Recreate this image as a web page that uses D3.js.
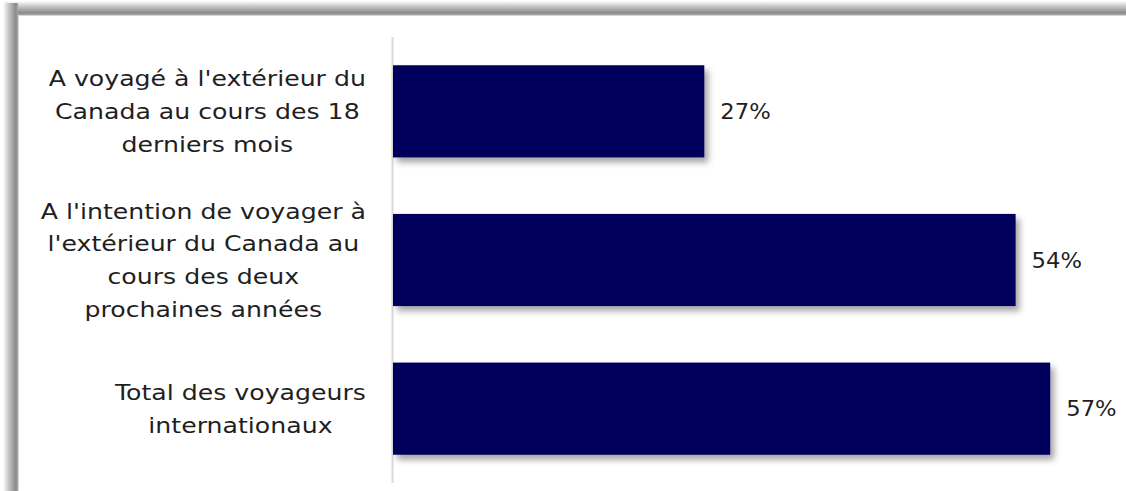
<!DOCTYPE html>
<html>
<head>
<meta charset="utf-8">
<script src="https://cdn.jsdelivr.net/npm/d3@7"></script>
<style>
  html, body { margin: 0; padding: 0; background: #ffffff; }
  svg { display: block; }
</style>
</head>
<body>
<svg id="chart" width="1126" height="491"></svg>
<script>
// Categories (one array of wrapped lines per bar) and their percentages
const categories = [
  ["A voyagé à l'extérieur du", "Canada au cours des 18", "derniers mois"],
  ["A l'intention de voyager à", "l'extérieur du Canada au", "cours des deux", "prochaines années"],
  ["Total des voyageurs", "internationaux"]
];
const values = [27, 54, 57];
const valueLabels = ["27%", "54%", "57%"];

const W = 1126, H = 491;
const FONT = "'Century Gothic', 'DejaVu Sans', sans-serif";
const STRETCH = 1.2;        // widen category glyphs toward a geometric-gothic look
const VALUE_STRETCH = 1.08; // percentages are set a little narrower
const svg = d3.select("#chart");
const defs = svg.append("defs");

// Soft shading along the top and left edges of the panel
function shade(id, horizontal) {
  const g = defs.append("linearGradient").attr("id", id)
    .attr("x1", 0).attr("y1", 0)
    .attr("x2", horizontal ? 1 : 0).attr("y2", horizontal ? 0 : 1);
  g.append("stop").attr("offset", "0%").attr("stop-color", "#ffffff");
  g.append("stop").attr("offset", "40%").attr("stop-color", "#c4c4c4");
  g.append("stop").attr("offset", "85%").attr("stop-color", "#8a8a8a");
  g.append("stop").attr("offset", "100%").attr("stop-color", "#a8a8a8");
}
shade("shadeTop", false);
shade("shadeLeft", true);

// Drop shadow beneath each bar
const f = defs.append("filter").attr("id", "barShadow")
  .attr("x", "-5%").attr("y", "-10%").attr("width", "115%").attr("height", "135%");
f.append("feDropShadow").attr("dx", 4).attr("dy", 5).attr("stdDeviation", 3)
  .attr("flood-color", "#000000").attr("flood-opacity", 0.35);

svg.append("rect").attr("x", 4).attr("y", 1).attr("width", W).attr("height", 14)
  .attr("fill", "url(#shadeTop)");
svg.append("rect").attr("x", 3).attr("y", 3).attr("width", 15).attr("height", H)
  .attr("fill", "url(#shadeLeft)");
svg.append("rect").attr("x", 18).attr("y", 15).attr("width", W).attr("height", H)
  .attr("fill", "#ffffff");
svg.append("path").attr("d", `M18.5,${H} V15.5 H${W}`)
  .attr("fill", "none").attr("stroke", "#d6d6d6").attr("stroke-width", 1);

// Scales
const x0 = 393;
const x = d3.scaleLinear().domain([0, 60]).range([x0, x0 + 60 * 11.53]);
const y = d3.scaleBand().domain(d3.range(values.length))
  .range([37, 483]).paddingInner(0.38).paddingOuter(0.19);

// Category axis line
svg.append("line")
  .attr("x1", x0 - 0.5).attr("x2", x0 - 0.5)
  .attr("y1", 37).attr("y2", 483)
  .attr("stroke", "#d9d9d9").attr("stroke-width", 2);

// Bars
svg.append("g").selectAll("rect").data(values).join("rect")
  .attr("x", x(0))
  .attr("y", (d, i) => y(i))
  .attr("width", d => x(d) - x(0))
  .attr("height", y.bandwidth())
  .attr("fill", "#03035b")
  .attr("filter", "url(#barShadow)");

// Value labels
svg.append("g").selectAll("text").data(values).join("text")
  .attr("transform", (d, i) =>
    `translate(${x(d) + 16},${y(i) + y.bandwidth() / 2}) scale(${VALUE_STRETCH},1)`)
  .attr("dy", "0.36em")
  .attr("font-family", FONT).attr("font-size", 21)
  .attr("fill", "#1f1f1f")
  .text((d, i) => valueLabels[i]);

// Category labels: each block is right-aligned, lines centred within it
const lineH = 32.7;
const labelRight = 366;
categories.forEach((lines, i) => {
  const cy = y(i) + y.bandwidth() / 2;
  const g = svg.append("g");
  const texts = g.selectAll("text").data(lines).join("text")
    .attr("font-family", FONT).attr("font-size", 21)
    .attr("fill", "#1f1f1f")
    .attr("text-anchor", "middle")
    .attr("dy", "0.36em")
    .text(d => d);
  let maxW = 0;
  texts.each(function () { maxW = Math.max(maxW, this.getComputedTextLength()); });
  const cx = labelRight - STRETCH * maxW / 2;
  texts.attr("transform", (d, k) =>
    `translate(${cx},${cy + (k - (lines.length - 1) / 2) * lineH}) scale(${STRETCH},1)`);
});
</script>
</body>
</html>
